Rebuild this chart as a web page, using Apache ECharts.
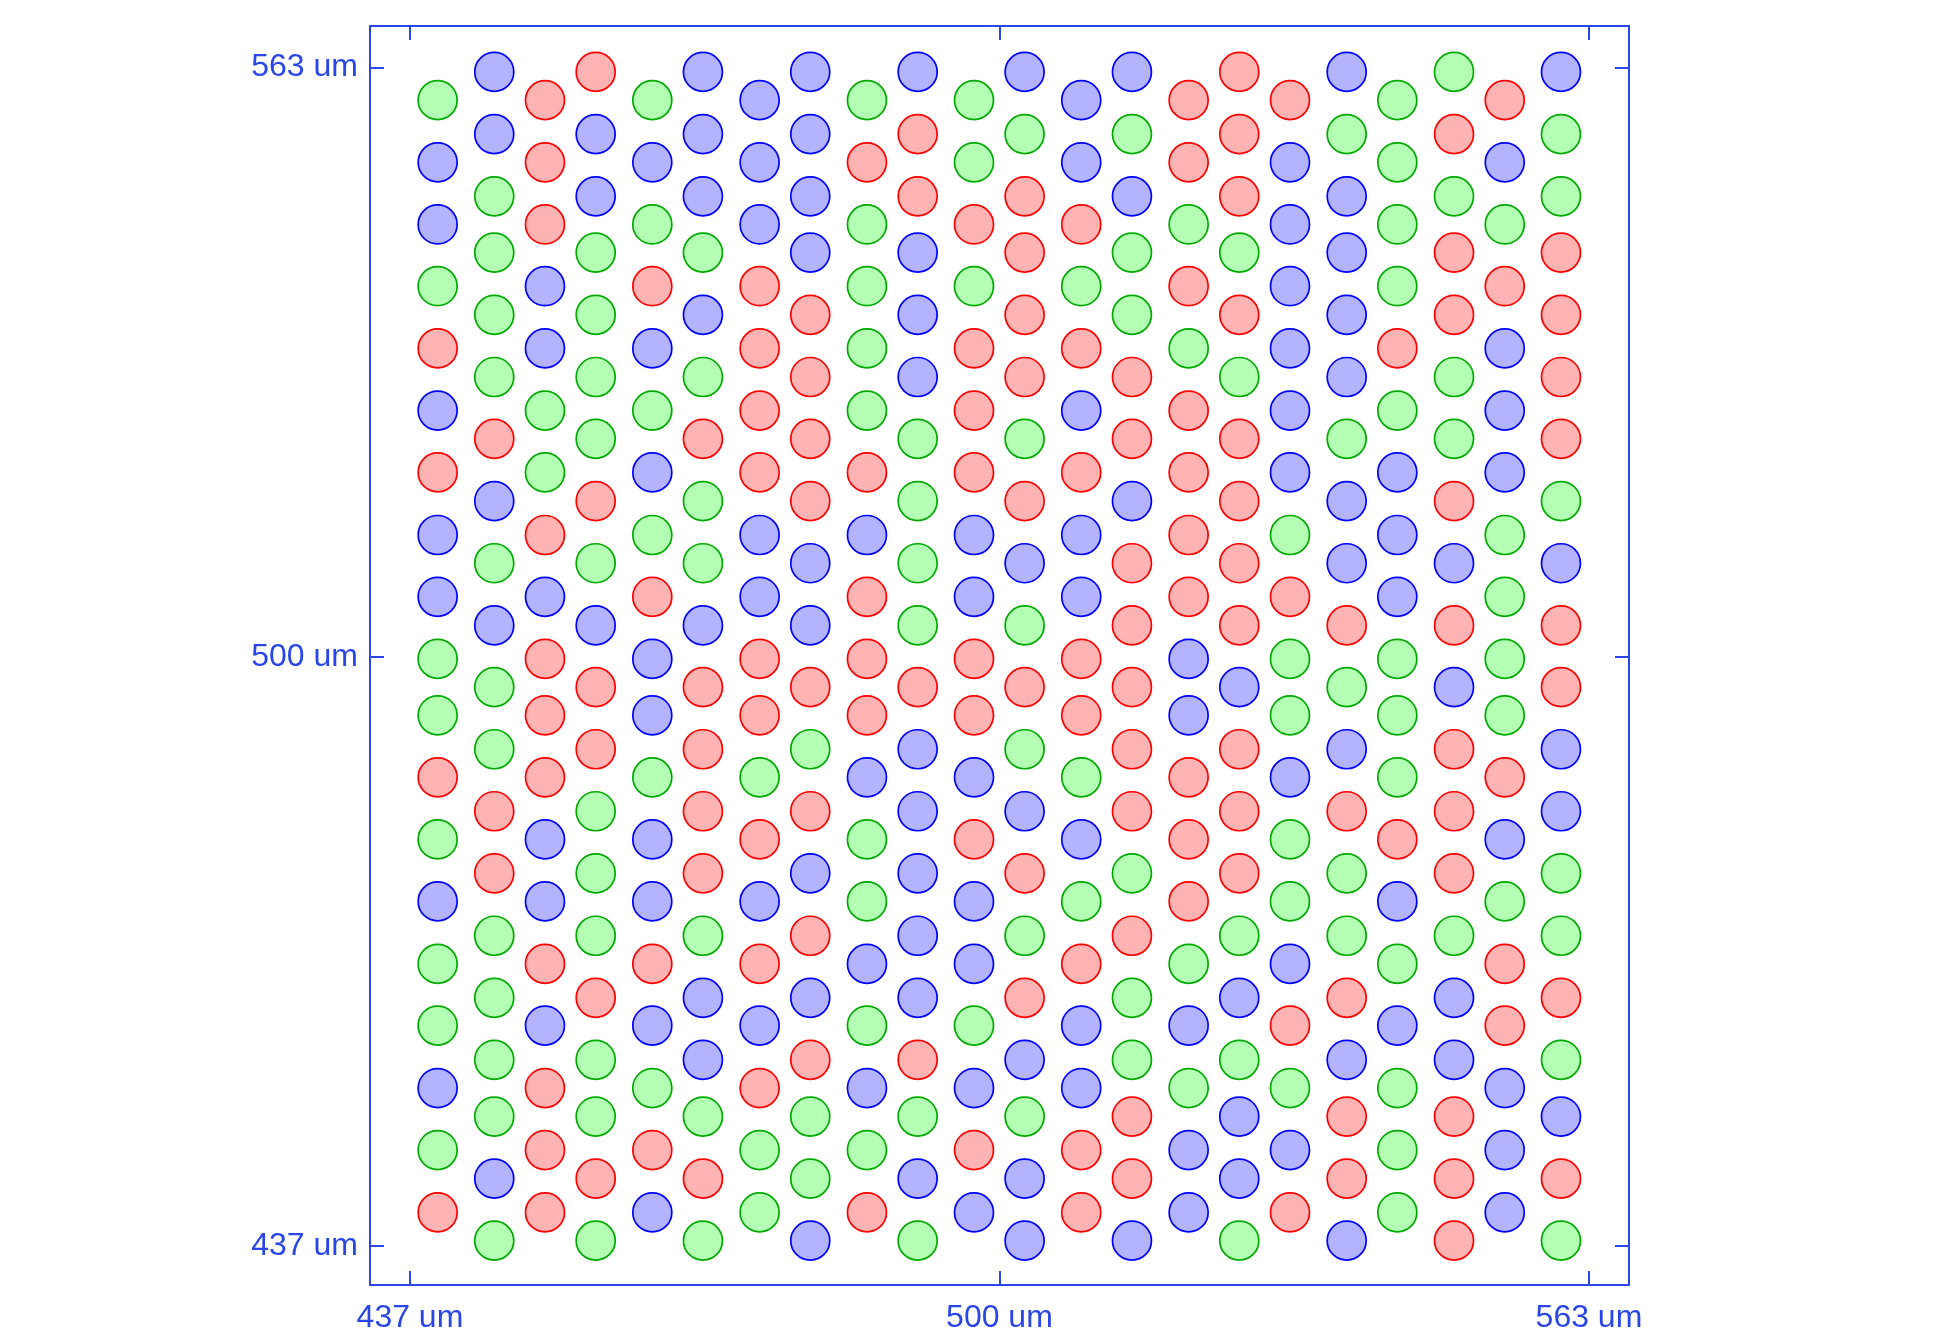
<!DOCTYPE html>
<html>
<head>
<meta charset="utf-8">
<script src="https://cdn.jsdelivr.net/npm/echarts@6/dist/echarts.min.js"></script>
<style>
html,body{margin:0;padding:0;background:#fff;}
#chart{width:1960px;height:1340px;}
</style>
</head>
<body>
<div id="chart"></div>
<script>
// Column x positions (um)
const colX = [439.96, 446.01, 451.43, 456.85, 462.90, 468.31, 474.37, 479.78, 485.84, 491.26, 497.28,
              502.69, 508.74, 514.16, 520.22, 525.63, 531.05, 537.11, 542.52, 548.58, 554.00, 560.01];
// Row y positions (um) for odd columns (1st, 3rd, ...) and even columns (2nd, 4th, ...)
const oddRowY = [559.51, 552.86, 546.22, 539.62, 532.97, 526.32, 519.71, 513.02, 506.41, 499.77,
                 493.74, 487.11, 480.47, 473.84, 467.16, 460.57, 453.89, 447.26, 440.59];
const evenRowY = [562.53, 555.88, 549.23, 543.21, 536.56, 529.91, 523.30, 516.65, 510.00, 503.35,
                  496.75, 490.11, 483.48, 476.85, 470.17, 463.53, 456.91, 450.84, 444.20, 437.57];
// Colour of each circle, column by column, top to bottom (G = green, B = blue, R = red)
const columnColors = [
  "GBBGRBRBBGGRGBGGBGR",
  "BBGGGGRBGBGGRRGGGGBG",
  "RRRBBGGRBRRRBBRBRRR",
  "RBBGGGGRGBRRGGGRGGRG",
  "GBGRBGBGRBBGBBRBGRB",
  "BBBGBGRGGBRRRRGBBGRG",
  "BBBRRRRBBRRGRBRBRGG",
  "BBBBRRRRBBRGRBRBRGGB",
  "GRGGGGRBRRRBGGBGBGR",
  "BRRBBBGGGGRBBBBBRGBG",
  "GGRGRRRBBRRBRBBGBRB",
  "BGRRRRGRBGRGBRGRBGBB",
  "BBRGRBRBBRRGBGRBBRR",
  "BGBGGRRBRRRRRGRGGRRB",
  "RRGRGRRRRBBRRRGBGBB",
  "RRRGRGRRRRBRRRGBGBBG",
  "RBBBBBBGRGGBGGBRGBR",
  "BGBBBBGBBRGBRGGRBRRB",
  "GGGGRGBBBGGGRBGBGGG",
  "GRGRRGGRBRBRRRGBBRRR",
  "RBGRBBBGGGGRBGRRBBB",
  "BGGRRRRGBRRBBGGRGBRG"
];
const tickValues = [437, 500, 563];

const styles = {
  G: {name: 'green', fill: '#b3ffb3', stroke: '#00aa00'},
  B: {name: 'blue',  fill: '#b3b3ff', stroke: '#0000ff'},
  R: {name: 'red',   fill: '#ffb3b3', stroke: '#ff0000'}
};

const pts = {G: [], B: [], R: []};
columnColors.forEach((col, ci) => {
  const ys = (ci % 2 === 0) ? oddRowY : evenRowY;
  for (let ri = 0; ri < col.length; ri++) {
    pts[col[ri]].push([colX[ci], ys[ri]]);
  }
});

const axisColor = '#2a45e8';
const labelFmt = v => v + ' um';

function makeAxis(pos, showLabel, min, max) {
  return {
    type: 'value', position: pos, min: min, max: max,
    axisLine: {show: true, onZero: false, lineStyle: {color: axisColor, width: 2}},
    axisTick: {show: true, inside: true, length: 14, customValues: tickValues,
               lineStyle: {color: axisColor, width: 2}},
    axisLabel: {show: showLabel, customValues: tickValues, formatter: labelFmt,
                color: axisColor, fontSize: 32, fontFamily: 'Liberation Sans, Arial, sans-serif',
                margin: pos === 'left' ? 12 : 17},
    splitLine: {show: false}
  };
}

const chart = echarts.init(document.getElementById('chart'), null, {renderer: 'canvas'});
chart.setOption({
  animation: false,
  backgroundColor: '#ffffff',
  grid: {left: 370, right: 331, top: 26, bottom: 55, containLabel: false},
  xAxis: [makeAxis('bottom', true, 432.73, 567.28), makeAxis('top', false, 432.73, 567.28)],
  yAxis: [makeAxis('left', true, 432.83, 567.44), makeAxis('right', false, 432.83, 567.44)],
  series: ['G', 'B', 'R'].map(k => ({
    type: 'scatter',
    name: styles[k].name,
    data: pts[k],
    symbol: 'circle',
    symbolSize: 39,
    itemStyle: {color: styles[k].fill, borderColor: styles[k].stroke, borderWidth: 1.7, opacity: 1},
    emphasis: {disabled: true}
  }))
});
</script>
</body>
</html>
